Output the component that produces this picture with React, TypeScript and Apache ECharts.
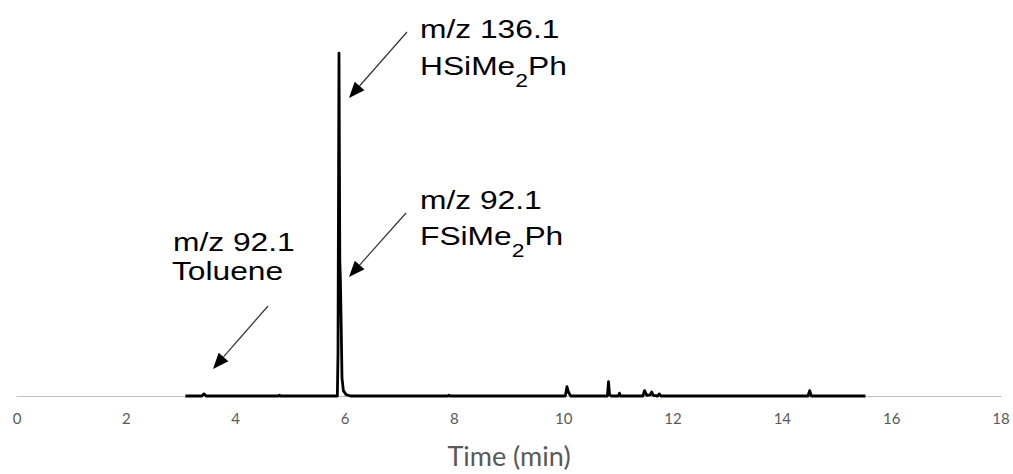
import React, { useEffect, useRef } from "react";
import * as echarts from "echarts";

// Retention time (min) and relative intensity of the chromatogram trace
const retentionTimes: number[] = [
  3.08, 3.38, 3.42, 3.46, 4.78, 4.8, 4.82,
  5.86, 5.872, 5.89, 5.905, 5.915, 5.93, 5.945, 5.97, 6.02, 6.1,
  7.88, 7.9, 7.92,
  10.03, 10.06, 10.09, 10.13,
  10.8, 10.82, 10.84, 10.87,
  11.0, 11.02, 11.04,
  11.45, 11.48, 11.52, 11.58, 11.61, 11.64, 11.72, 11.75, 11.78,
  14.47, 14.5, 14.53, 15.52,
];
const intensities: number[] = [
  0, 0, 0.6, 0, 0, 0.2, 0,
  0, 12, 96.3, 38, 32.9, 20, 5, 1.5, 0.4, 0,
  0, 0.2, 0,
  0, 2.6, 1.0, 0,
  0, 4.0, 0.3, 0,
  0, 0.8, 0,
  0, 1.5, 0.2, 0.3, 1.1, 0.2, 0, 0.6, 0,
  0, 1.5, 0, 0,
];

const xMin = 0;
const xMax = 18;
const xInterval = 2;
const xAxisTitle = "Time (min)";

const labelHSi = { mz: "m/z 136.1", pre: "HSiMe", sub: "2", post: "Ph" };
const labelFSi = { mz: "m/z 92.1", pre: "FSiMe", sub: "2", post: "Ph" };
const labelTol = { mz: "m/z 92.1", name: "Toluene" };

const ANN_FONT = "'Liberation Sans', Arial, sans-serif";
const AXIS_FONT = "Lato, 'Open Sans', sans-serif";
const SX = 1.27;

function arrow(tail: [number, number], tip: [number, number]) {
  const dx = tail[0] - tip[0];
  const dy = tail[1] - tip[1];
  const len = Math.hypot(dx, dy);
  const ux = dx / len;
  const uy = dy / len;
  const hl = 16;
  const hw = 6.5;
  const bx = tip[0] + ux * hl;
  const by = tip[1] + uy * hl;
  const px = -uy;
  const py = ux;
  return [
    {
      type: "line",
      shape: { x1: tail[0], y1: tail[1], x2: bx, y2: by },
      style: { stroke: "#333", lineWidth: 1.2 },
    },
    {
      type: "polygon",
      shape: {
        points: [
          [tip[0], tip[1]],
          [bx + px * hw, by + py * hw],
          [bx - px * hw, by - py * hw],
        ],
      },
      style: { fill: "#000" },
    },
  ];
}

function plainText(text: string, x: number, y: number) {
  return {
    type: "text",
    x,
    y,
    scaleX: SX,
    style: {
      text,
      fontFamily: ANN_FONT,
      fontSize: 25,
      fill: "#000",
      align: "left",
      verticalAlign: "middle",
    },
  };
}

function subText(pre: string, sub: string, post: string, x: number, yCenter: number) {
  return {
    type: "text",
    x,
    y: yCenter - 15,
    scaleX: SX,
    style: {
      text: `{m|${pre}}{s|${sub}}{m|${post}}`,
      fontFamily: ANN_FONT,
      fontSize: 25,
      fill: "#000",
      align: "left",
      verticalAlign: "top",
      rich: {
        m: { fontFamily: ANN_FONT, fontSize: 25, lineHeight: 30, verticalAlign: "top", fill: "#000" },
        s: { fontFamily: ANN_FONT, fontSize: 18, lineHeight: 53, verticalAlign: "middle", fill: "#000" },
      },
    },
  };
}

export default function App() {
  const ref = useRef<HTMLDivElement>(null);
  useEffect(() => {
    if (!ref.current) return;
    const chart = echarts.init(ref.current, undefined, { renderer: "svg" });
    const data = retentionTimes.map((t, i) => [t, intensities[i]]);
    chart.setOption({
      animation: false,
      backgroundColor: "#fff",
      grid: { left: 17, right: 12, top: 40, bottom: 78, containLabel: false, outerBoundsMode: "none" },
      xAxis: {
        type: "value",
        min: xMin,
        max: xMax,
        interval: xInterval,
        name: xAxisTitle,
        nameLocation: "middle",
        nameGap: 46,
        nameTextStyle: {
          color: "#595959",
          fontSize: 27,
          fontFamily: AXIS_FONT,
        },
        axisLine: { show: true, lineStyle: { color: "#bfbfbf", width: 1 } },
        axisTick: { show: false },
        splitLine: { show: false },
        axisLabel: {
          color: "#595959",
          fontSize: 15,
          margin: 14,
          fontFamily: AXIS_FONT,
        },
      },
      yAxis: {
        type: "value",
        min: 0,
        max: 100,
        show: false,
        splitLine: { show: false },
      },
      series: [
        {
          type: "line",
          data,
          showSymbol: false,
          symbol: "none",
          lineStyle: { color: "#000", width: 2.8, join: "round" },
          clip: false,
        },
      ],
      graphic: [
        plainText(labelHSi.mz, 420, 29.5),
        subText(labelHSi.pre, labelHSi.sub, labelHSi.post, 420, 68.5),
        plainText(labelFSi.mz, 420, 200),
        subText(labelFSi.pre, labelFSi.sub, labelFSi.post, 420, 238.5),
        plainText(labelTol.mz, 173, 242),
        plainText(labelTol.name, 172, 271),
        ...arrow([407, 32], [349, 98]),
        ...arrow([406, 213], [349, 277]),
        ...arrow([268, 306], [213, 369]),
      ],
    });
    return () => chart.dispose();
  }, []);
  return (
    <div
      ref={ref}
      style={{ position: "fixed", left: 0, top: 0, width: 1013, height: 474 }}
    />
  );
}
